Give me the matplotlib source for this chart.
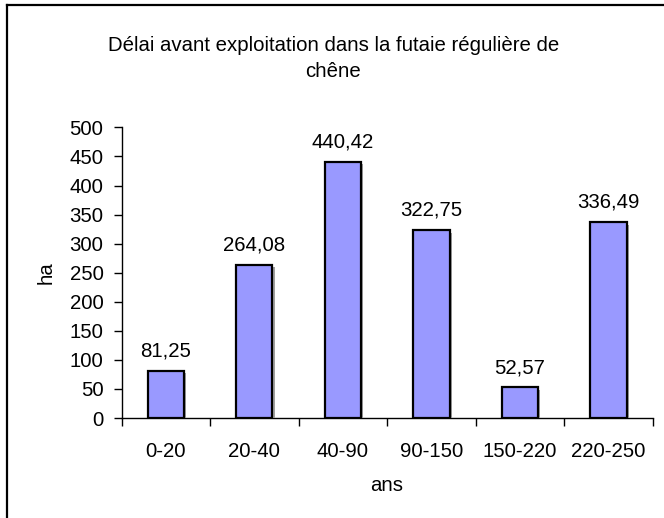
import matplotlib
matplotlib.use("Agg")
import matplotlib.pyplot as plt
import matplotlib.patheffects as pe
from matplotlib.lines import Line2D

plt.rcParams['font.family'] = ['Liberation Sans', 'DejaVu Sans']

categories = ['0-20', '20-40', '40-90', '90-150', '150-220', '220-250']
surfaces = [81.25, 264.08, 440.42, 322.75, 52.57, 336.49]
y_ticks = [0, 50, 100, 150, 200, 250, 300, 350, 400, 450, 500]

FS = 14.7

fig = plt.figure(figsize=(6.64, 5.18), dpi=100)
ax = fig.add_axes([0.183, 0.193, 0.800, 0.561])

x = range(len(categories))
bars = ax.bar(x, surfaces, width=0.41, color='#9999ff', edgecolor='black',
              linewidth=1.6, zorder=3)
for b in bars:
    b.set_path_effects([pe.SimplePatchShadow(offset=(1.5, -1.5), shadow_rgbFace='#a0a0a0', alpha=1.0),
                        pe.Normal()])

for i, v in enumerate(surfaces):
    ax.text(i, v + 18, f"{v:.2f}".replace('.', ','), ha='center', va='bottom', fontsize=FS)

ax.set_xlim(-0.5, len(categories) - 0.5)
ax.set_ylim(0, 500)
ax.set_yticks(y_ticks)
ax.tick_params(axis='y', labelsize=FS, length=6, width=1, direction='out', pad=7)

# category ticks sit on the boundaries between bars
ax.set_xticks([i - 0.5 for i in range(len(categories) + 1)], minor=False)
ax.set_xticklabels([])
ax.set_xticks(list(x), minor=True)
ax.set_xticklabels(categories, minor=True)
ax.tick_params(axis='x', which='major', length=6, width=1, direction='out')
ax.tick_params(axis='x', which='minor', length=0, labelsize=FS, pad=17)

for s in ['top', 'right']:
    ax.spines[s].set_visible(False)
ax.spines['left'].set_linewidth(1)
ax.spines['bottom'].set_linewidth(1)

ax.set_ylabel('ha', fontsize=FS, labelpad=10)
ax.set_xlabel('ans', fontsize=FS, labelpad=11)

fig.text(0.502, 0.887, "Délai avant exploitation dans la futaie régulière de\nchêne",
         ha='center', va='center', fontsize=FS, linespacing=1.5)

# chart area border (top and left edges)
fig.add_artist(Line2D([0.011, 0.011], [0, 0.991], color='black', lw=1.6, transform=fig.transFigure))
fig.add_artist(Line2D([0.011, 1.0], [0.991, 0.991], color='black', lw=1.6, transform=fig.transFigure))

fig.savefig('out.png', dpi=100)
